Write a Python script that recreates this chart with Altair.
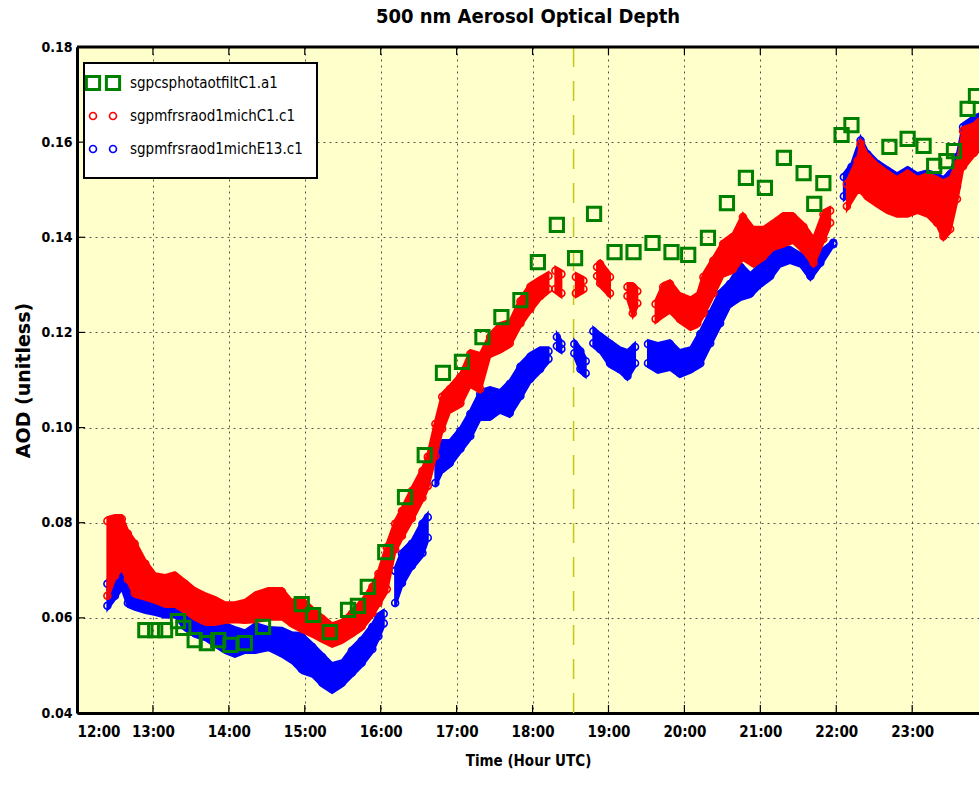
import altair as alt
import pandas as pd

# ---------------- data ----------------
# Cimel sun photometer (CSPHOT) 500 nm AOD
GREEN_T = [12.90, 13.03, 13.16, 13.33, 13.40, 13.55, 13.71, 13.86, 14.02, 14.21, 14.45,
           14.96, 15.11, 15.33, 15.57, 15.70, 15.83, 16.06, 16.32, 16.58, 16.82, 17.07,
           17.34, 17.59, 17.84, 18.07, 18.32, 18.56, 18.81, 19.08, 19.33, 19.58, 19.83,
           20.05, 20.31, 20.56, 20.81, 21.06, 21.31, 21.57, 21.71, 21.83, 22.07, 22.20,
           22.70, 22.94, 23.15, 23.29, 23.45, 23.55, 23.73, 23.84]
GREEN_V = [0.0574, 0.0574, 0.0574, 0.0593, 0.0579, 0.0553, 0.0547, 0.0553, 0.0543, 0.0547, 0.0581,
           0.0629, 0.0606, 0.0570, 0.0617, 0.0625, 0.0665, 0.0738, 0.0854, 0.0942, 0.1115, 0.1138,
           0.1190, 0.1232, 0.1268, 0.1348, 0.1426, 0.1356, 0.1449, 0.1369, 0.1369, 0.1388, 0.1369,
           0.1363, 0.1399, 0.1472, 0.1525, 0.1504, 0.1567, 0.1535, 0.1470, 0.1514, 0.1615, 0.1636,
           0.1590, 0.1607, 0.1592, 0.1550, 0.1560, 0.1581, 0.1670, 0.1697]

# MFRSR C1: lower / upper envelope of the observations, per time step
RED_T = [12.40, 12.50, 12.59, 12.67, 12.76, 12.90, 13.03, 13.16, 13.29, 13.42, 13.55, 13.69,
         13.82, 13.95, 14.08, 14.21, 14.35, 14.52, 14.70, 14.83, 14.96, 15.10, 15.23, 15.36,
         15.49, 15.62, 15.75, 15.89, 15.97, 16.08, 16.19, 16.28, 16.41, 16.55, 16.62, 16.72,
         16.81, 16.91, 17.05, 17.18, 17.31, 17.44, 17.57, 17.70, 17.84, 17.97, 18.10, 18.21,
         18.30, 18.38,
         18.57, 18.67,
         18.85, 18.89, 19.02,
         19.25, 19.32, 19.38,
         19.62, 19.72, 19.81, 19.94, 20.08, 20.17, 20.25, 20.38, 20.51, 20.64, 20.77, 20.91,
         21.04, 21.17, 21.30, 21.43, 21.57, 21.70, 21.83, 21.92,
         22.14, 22.28, 22.32, 22.41, 22.54, 22.67, 22.80, 22.94, 23.07, 23.20, 23.33, 23.41,
         23.50, 23.59, 23.67, 23.81, 23.88]
RED_LO = [0.0638, 0.0680, 0.0701, 0.0673, 0.0644, 0.0638, 0.0631, 0.0623, 0.0623, 0.0610, 0.0596, 0.0585,
          0.0585, 0.0589, 0.0591, 0.0589, 0.0591, 0.0596, 0.0596, 0.0581, 0.0570, 0.0560, 0.0549, 0.0539,
          0.0547, 0.0560, 0.0574, 0.0602, 0.0623, 0.0652, 0.0736, 0.0764, 0.0801, 0.0844, 0.0869, 0.0932,
          0.0989, 0.1031, 0.1043, 0.1085, 0.1073, 0.1148, 0.1157, 0.1169, 0.1211, 0.1241, 0.1268, 0.1283,
          0.1283, 0.1274,
          0.1274, 0.1283,
          0.1310, 0.1295, 0.1274,
          0.1268, 0.1232, 0.1253,
          0.1220, 0.1232, 0.1241, 0.1220, 0.1205, 0.1211, 0.1232, 0.1274, 0.1317, 0.1325, 0.1352, 0.1338,
          0.1352, 0.1373, 0.1380, 0.1388, 0.1367, 0.1338, 0.1388, 0.1422,
          0.1457, 0.1493, 0.1493, 0.1478, 0.1464, 0.1451, 0.1443, 0.1443, 0.1451, 0.1443, 0.1422, 0.1394,
          0.1409, 0.1472, 0.1541, 0.1569, 0.1580]
RED_HI = [0.0812, 0.0816, 0.0816, 0.0785, 0.0764, 0.0722, 0.0694, 0.0690, 0.0696, 0.0680, 0.0663, 0.0652,
          0.0644, 0.0633, 0.0633, 0.0638, 0.0654, 0.0663, 0.0663, 0.0638, 0.0644, 0.0623, 0.0606, 0.0589,
          0.0596, 0.0617, 0.0638, 0.0673, 0.0701, 0.0757, 0.0806, 0.0833, 0.0875, 0.0917, 0.0947, 0.1016,
          0.1073, 0.1089, 0.1115, 0.1163, 0.1157, 0.1199, 0.1220, 0.1226, 0.1274, 0.1304, 0.1317, 0.1327,
          0.1338, 0.1331,
          0.1325, 0.1317,
          0.1346, 0.1352, 0.1325,
          0.1304, 0.1304, 0.1295,
          0.1268, 0.1304, 0.1310, 0.1283, 0.1274, 0.1283, 0.1325, 0.1359, 0.1394, 0.1409, 0.1451, 0.1422,
          0.1422, 0.1436, 0.1451, 0.1451, 0.1430, 0.1401, 0.1457, 0.1464,
          0.1520, 0.1569, 0.1605, 0.1577, 0.1556, 0.1541, 0.1527, 0.1541, 0.1527, 0.1535, 0.1527, 0.1520,
          0.1527, 0.1562, 0.1632, 0.1640, 0.1650]
RED_SEG = [0] * 48 + [1] * 2 + [2] * 2 + [3] * 3 + [4] * 3 + [5] * 20 + [6] * 17

# MFRSR E13: lower / upper envelope of the observations, per time step
BLUE_T = [12.40, 12.50, 12.59, 12.67, 12.76, 12.90, 13.03, 13.16, 13.29, 13.42, 13.55, 13.69,
          13.82, 13.95, 14.08, 14.21, 14.35, 14.52, 14.70, 14.83, 14.96, 15.10, 15.23, 15.36,
          15.49, 15.62, 15.75, 15.89, 15.97, 16.04,
          16.19, 16.28, 16.41, 16.55, 16.62,
          16.72, 16.81, 16.91, 17.05, 17.18, 17.31, 17.44, 17.57, 17.70, 17.84, 17.97, 18.10, 18.21,
          18.32, 18.38,
          18.55, 18.63, 18.70,
          18.80, 18.89, 19.02, 19.15, 19.25, 19.35,
          19.52, 19.65, 19.81, 19.94, 20.08, 20.21, 20.34, 20.47, 20.60, 20.74, 20.87, 21.00,
          21.13, 21.26, 21.39, 21.53, 21.66, 21.79, 21.96,
          22.10, 22.20, 22.32, 22.41, 22.54, 22.67, 22.80, 22.94, 23.07, 23.20, 23.33, 23.41,
          23.50, 23.59, 23.67, 23.81, 23.88]
BLUE_LO = [0.0617, 0.0638, 0.0659, 0.0623, 0.0617, 0.0610, 0.0606, 0.0600, 0.0602, 0.0574, 0.0560, 0.0553,
           0.0539, 0.0526, 0.0518, 0.0526, 0.0526, 0.0532, 0.0518, 0.0505, 0.0484, 0.0476, 0.0455, 0.0442,
           0.0455, 0.0476, 0.0497, 0.0526, 0.0553, 0.0580,
           0.0623, 0.0665, 0.0701, 0.0728, 0.0760,
           0.0875, 0.0905, 0.0917, 0.0947, 0.0974, 0.1016, 0.1016, 0.1031, 0.1022, 0.1058, 0.1094, 0.1115, 0.1136,
           0.1163, 0.1157,
           0.1148, 0.1115, 0.1106,
           0.1169, 0.1157, 0.1127, 0.1115, 0.1100, 0.1127,
           0.1127, 0.1115, 0.1121, 0.1106, 0.1115, 0.1127, 0.1169, 0.1211, 0.1253, 0.1268, 0.1274, 0.1295,
           0.1310, 0.1338, 0.1346, 0.1338, 0.1310, 0.1338, 0.1380,
           0.1478, 0.1493, 0.1520, 0.1510, 0.1499, 0.1478, 0.1472, 0.1472, 0.1472, 0.1472, 0.1464, 0.1457,
           0.1464, 0.1499, 0.1556, 0.1577, 0.1590]
BLUE_HI = [0.0680, 0.0680, 0.0701, 0.0673, 0.0644, 0.0638, 0.0631, 0.0623, 0.0638, 0.0610, 0.0596, 0.0585,
           0.0585, 0.0589, 0.0581, 0.0574, 0.0589, 0.0581, 0.0579, 0.0570, 0.0568, 0.0547, 0.0526, 0.0505,
           0.0511, 0.0539, 0.0560, 0.0589, 0.0610, 0.0617,
           0.0707, 0.0743, 0.0764, 0.0806, 0.0820,
           0.0947, 0.0974, 0.0974, 0.1001, 0.1037, 0.1079, 0.1085, 0.1079, 0.1100, 0.1136, 0.1157, 0.1169, 0.1169,
           0.1199, 0.1184,
           0.1184, 0.1169, 0.1148,
           0.1211, 0.1199, 0.1184, 0.1169, 0.1163, 0.1178,
           0.1184, 0.1178, 0.1184, 0.1163, 0.1169, 0.1205, 0.1247, 0.1289, 0.1310, 0.1346, 0.1325, 0.1346,
           0.1367, 0.1380, 0.1380, 0.1367, 0.1346, 0.1373, 0.1394,
           0.1535, 0.1556, 0.1612, 0.1583, 0.1562, 0.1548, 0.1535, 0.1548, 0.1535, 0.1541, 0.1535, 0.1527,
           0.1541, 0.1577, 0.1640, 0.1655, 0.1660]
BLUE_SEG = [0] * 30 + [1] * 5 + [2] * 13 + [3] * 2 + [4] * 3 + [5] * 6 + [6] * 19 + [7] * 17

SOLAR_NOON = 18.54
HOUR_TICKS = list(range(12, 24))
AOD_TICKS = [0.04, 0.06, 0.08, 0.10, 0.12, 0.14, 0.16, 0.18]
LEGEND = [("sgpcsphotaotfiltC1.a1", "#008000", "square"),
          ("sgpmfrsraod1michC1.c1", "#ff0000", "circle"),
          ("sgpmfrsraod1michE13.c1", "#0000ff", "circle")]

# ---------------- chart ----------------
FONT = "DejaVu Sans Condensed, Liberation Sans Narrow, sans-serif"
W, H = 902, 666

x_scale = alt.Scale(domain=[12, 23.88], nice=False, zero=False)
y_scale = alt.Scale(domain=[0.04, 0.18], nice=False, zero=False)
x_axis = alt.Axis(values=HOUR_TICKS, labelExpr="datum.value + ':00'", title="Time (Hour UTC)",
                  grid=True, ticks=False, labelPadding=11, titlePadding=14)
y_axis = alt.Axis(values=AOD_TICKS, format=".2f", title="AOD (unitless)",
                  grid=True, ticks=False, labelPadding=5, titlePadding=7)

X = alt.X("hour:Q", scale=x_scale, axis=x_axis)

red = pd.DataFrame({"hour": RED_T, "lo": RED_LO, "hi": RED_HI, "seg": RED_SEG})
blue = pd.DataFrame({"hour": BLUE_T, "lo": BLUE_LO, "hi": BLUE_HI, "seg": BLUE_SEG})
green = pd.DataFrame({"hour": GREEN_T, "aod": GREEN_V})


def cloud(df, color):
    """Dense scatter of open circles, drawn as a filled envelope edged with circles."""
    base = alt.Chart(df)
    area = base.mark_area(color=color, stroke=color, strokeWidth=2, clip=True).encode(
        x=X,
        y=alt.Y("lo:Q", scale=y_scale, axis=y_axis),
        y2="hi:Q",
        detail="seg:N",
    )
    top = base.mark_point(shape="circle", filled=False, color=color, size=48,
                          strokeWidth=1.6, opacity=1, clip=True, yOffset=4).encode(
        x=X, y=alt.Y("hi:Q", scale=y_scale, axis=y_axis))
    bottom = base.mark_point(shape="circle", filled=False, color=color, size=48,
                             strokeWidth=1.6, opacity=1, clip=True, yOffset=-4).encode(
        x=X, y=alt.Y("lo:Q", scale=y_scale, axis=y_axis))
    return [area, top, bottom]


noon = alt.Chart(pd.DataFrame({"hour": [SOLAR_NOON]})).mark_rule(
    color="#c8c41e", strokeWidth=1.5, strokeDash=[20, 14]).encode(x=X)

squares = alt.Chart(green).mark_point(
    shape="square", filled=False, color="#008000", size=175, strokeWidth=3,
    opacity=1, clip=True).encode(x=X, y=alt.Y("aod:Q", scale=y_scale, axis=y_axis))

# inward tick marks on bottom, top and left frame
xt = pd.DataFrame({"hour": HOUR_TICKS})
yt = pd.DataFrame({"aod": AOD_TICKS})
tick_bottom = alt.Chart(xt).mark_rule(color="black", strokeWidth=1.2).encode(
    x=X, y=alt.value(H), y2=alt.value(H - 8))
tick_top = alt.Chart(xt).mark_rule(color="black", strokeWidth=1.2).encode(
    x=X, y=alt.value(0), y2=alt.value(8))
tick_left = alt.Chart(yt).mark_rule(color="black", strokeWidth=1.2).encode(
    y=alt.Y("aod:Q", scale=y_scale, axis=y_axis), x=alt.value(0), x2=alt.value(8))

one = alt.Data(values=[{}])
top_frame = alt.Chart(one).mark_rule(color="black", strokeWidth=3).encode(
    x=alt.value(0), x2=alt.value(W), y=alt.value(0))

# legend box
legend_layers = [
    alt.Chart(one).mark_rect(fill="white", stroke="black", strokeWidth=2).encode(
        x=alt.value(7), x2=alt.value(240), y=alt.value(16), y2=alt.value(131))
]
for i, (label, color, shape) in enumerate(LEGEND):
    ry = 36 + i * 33
    if shape == "square":
        mk = dict(shape="square", size=175, strokeWidth=3)
    else:
        mk = dict(shape="circle", size=48, strokeWidth=1.6)
    for mx in (16, 36):
        legend_layers.append(
            alt.Chart(one).mark_point(filled=False, color=color, opacity=1, **mk).encode(
                x=alt.value(mx), y=alt.value(ry)))
    legend_layers.append(
        alt.Chart(one).mark_text(align="left", baseline="middle", font=FONT, fontSize=15,
                                 color="black").encode(
            x=alt.value(53), y=alt.value(ry), text=alt.value(label)))

layers = ([noon] + cloud(blue, "#0000ff") + cloud(red, "#ff0000") + [squares,
          tick_bottom, tick_top, tick_left, top_frame] + legend_layers)

chart = alt.layer(*layers).properties(
    width=W,
    height=H,
    title=alt.TitleParams("500 nm Aerosol Optical Depth", font=FONT, fontSize=20,
                          fontWeight="bold", anchor="middle", offset=13, color="black"),
    autosize=alt.AutoSizeParams(type="none"),
    padding={"left": 77, "top": 47, "right": 0, "bottom": 75},
).configure_view(
    fill="#ffffcc", stroke=None, strokeWidth=0
).configure_axis(
    labelFont=FONT, labelFontSize=15, labelFontWeight="bold", labelColor="black",
    titleFont=FONT, titleFontSize=15, titleFontWeight="bold", titleColor="black",
    domainColor="black", domainWidth=3,
    gridColor="#555555", gridDash=[2, 4], gridWidth=1, gridOpacity=1,
).configure_axisY(
    titleFont="DejaVu Sans", titleFontSize=19, labelFontSize=14,
)

chart.save("out.html", embed_options={"renderer": "svg", "actions": False})
